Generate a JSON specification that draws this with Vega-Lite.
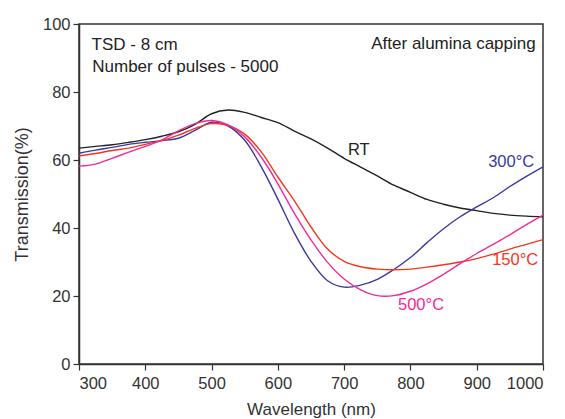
{
  "$schema": "https://vega.github.io/schema/vega-lite/v6.json",
  "width": 464,
  "height": 340,
  "autosize": {"type": "none"},
  "padding": {"left": 79, "top": 24, "right": 22, "bottom": 55},
  "config": {
    "font": "Liberation Sans",
    "view": {"stroke": "#333333", "strokeWidth": 1.5},
    "axis": {"grid": false, "domainColor": "#333333", "domainWidth": 1.5, "tickColor": "#333333", "tickWidth": 1.2, "labelColor": "#333333", "titleColor": "#333333", "labelFont": "Liberation Sans", "titleFont": "Liberation Sans", "labelFontSize": 16.5, "titleFontSize": 17, "titleFontWeight": "normal"}
  },
  "datasets": {
    "curves": [
      {"wl": 300, "T": 63.5, "s": "RT"}, {"wl": 325, "T": 64.0, "s": "RT"}, {"wl": 350, "T": 64.5, "s": "RT"}, {"wl": 375, "T": 65.2, "s": "RT"}, {"wl": 400, "T": 66.0, "s": "RT"}, {"wl": 425, "T": 67.0, "s": "RT"}, {"wl": 450, "T": 68.3, "s": "RT"}, {"wl": 475, "T": 70.5, "s": "RT"}, {"wl": 500, "T": 73.6, "s": "RT"}, {"wl": 525, "T": 74.7, "s": "RT"}, {"wl": 550, "T": 74.0, "s": "RT"}, {"wl": 575, "T": 72.5, "s": "RT"}, {"wl": 600, "T": 71.0, "s": "RT"}, {"wl": 625, "T": 68.5, "s": "RT"}, {"wl": 650, "T": 66.2, "s": "RT"}, {"wl": 675, "T": 63.5, "s": "RT"}, {"wl": 700, "T": 60.5, "s": "RT"}, {"wl": 725, "T": 57.9, "s": "RT"}, {"wl": 750, "T": 55.3, "s": "RT"}, {"wl": 775, "T": 52.6, "s": "RT"}, {"wl": 800, "T": 50.5, "s": "RT"}, {"wl": 825, "T": 48.4, "s": "RT"}, {"wl": 850, "T": 47.0, "s": "RT"}, {"wl": 875, "T": 45.9, "s": "RT"}, {"wl": 900, "T": 45.1, "s": "RT"}, {"wl": 925, "T": 44.3, "s": "RT"}, {"wl": 950, "T": 43.8, "s": "RT"}, {"wl": 975, "T": 43.5, "s": "RT"}, {"wl": 1000, "T": 43.3, "s": "RT"},
      {"wl": 300, "T": 62.0, "s": "300"}, {"wl": 325, "T": 62.9, "s": "300"}, {"wl": 350, "T": 63.7, "s": "300"}, {"wl": 375, "T": 64.6, "s": "300"}, {"wl": 400, "T": 65.2, "s": "300"}, {"wl": 425, "T": 65.7, "s": "300"}, {"wl": 450, "T": 66.4, "s": "300"}, {"wl": 475, "T": 68.7, "s": "300"}, {"wl": 500, "T": 71.1, "s": "300"}, {"wl": 525, "T": 70.0, "s": "300"}, {"wl": 550, "T": 65.8, "s": "300"}, {"wl": 575, "T": 58.0, "s": "300"}, {"wl": 600, "T": 48.5, "s": "300"}, {"wl": 625, "T": 38.5, "s": "300"}, {"wl": 650, "T": 30.2, "s": "300"}, {"wl": 675, "T": 24.5, "s": "300"}, {"wl": 700, "T": 22.6, "s": "300"}, {"wl": 725, "T": 23.2, "s": "300"}, {"wl": 750, "T": 24.9, "s": "300"}, {"wl": 775, "T": 27.8, "s": "300"}, {"wl": 800, "T": 31.3, "s": "300"}, {"wl": 825, "T": 35.7, "s": "300"}, {"wl": 850, "T": 39.8, "s": "300"}, {"wl": 875, "T": 43.3, "s": "300"}, {"wl": 900, "T": 46.2, "s": "300"}, {"wl": 925, "T": 48.9, "s": "300"}, {"wl": 950, "T": 52.2, "s": "300"}, {"wl": 975, "T": 55.2, "s": "300"}, {"wl": 1000, "T": 58.0, "s": "300"},
      {"wl": 300, "T": 61.2, "s": "150"}, {"wl": 325, "T": 61.9, "s": "150"}, {"wl": 350, "T": 62.8, "s": "150"}, {"wl": 375, "T": 63.5, "s": "150"}, {"wl": 400, "T": 64.6, "s": "150"}, {"wl": 425, "T": 65.7, "s": "150"}, {"wl": 450, "T": 67.3, "s": "150"}, {"wl": 475, "T": 69.3, "s": "150"}, {"wl": 500, "T": 70.7, "s": "150"}, {"wl": 525, "T": 70.2, "s": "150"}, {"wl": 550, "T": 67.6, "s": "150"}, {"wl": 575, "T": 62.4, "s": "150"}, {"wl": 600, "T": 55.0, "s": "150"}, {"wl": 625, "T": 48.0, "s": "150"}, {"wl": 650, "T": 40.3, "s": "150"}, {"wl": 675, "T": 33.8, "s": "150"}, {"wl": 700, "T": 30.2, "s": "150"}, {"wl": 725, "T": 28.6, "s": "150"}, {"wl": 750, "T": 27.9, "s": "150"}, {"wl": 775, "T": 27.7, "s": "150"}, {"wl": 800, "T": 27.9, "s": "150"}, {"wl": 825, "T": 28.5, "s": "150"}, {"wl": 850, "T": 29.2, "s": "150"}, {"wl": 875, "T": 30.0, "s": "150"}, {"wl": 900, "T": 31.0, "s": "150"}, {"wl": 925, "T": 32.3, "s": "150"}, {"wl": 950, "T": 33.8, "s": "150"}, {"wl": 975, "T": 35.2, "s": "150"}, {"wl": 1000, "T": 36.6, "s": "150"},
      {"wl": 300, "T": 58.2, "s": "500"}, {"wl": 325, "T": 58.8, "s": "500"}, {"wl": 350, "T": 60.5, "s": "500"}, {"wl": 375, "T": 62.3, "s": "500"}, {"wl": 400, "T": 64.0, "s": "500"}, {"wl": 425, "T": 65.9, "s": "500"}, {"wl": 450, "T": 68.6, "s": "500"}, {"wl": 475, "T": 70.7, "s": "500"}, {"wl": 500, "T": 71.6, "s": "500"}, {"wl": 525, "T": 70.3, "s": "500"}, {"wl": 550, "T": 66.8, "s": "500"}, {"wl": 575, "T": 60.8, "s": "500"}, {"wl": 600, "T": 53.0, "s": "500"}, {"wl": 625, "T": 44.3, "s": "500"}, {"wl": 650, "T": 36.5, "s": "500"}, {"wl": 675, "T": 29.9, "s": "500"}, {"wl": 700, "T": 25.0, "s": "500"}, {"wl": 725, "T": 21.8, "s": "500"}, {"wl": 750, "T": 20.1, "s": "500"}, {"wl": 775, "T": 20.1, "s": "500"}, {"wl": 800, "T": 21.4, "s": "500"}, {"wl": 825, "T": 23.6, "s": "500"}, {"wl": 850, "T": 26.4, "s": "500"}, {"wl": 875, "T": 29.5, "s": "500"}, {"wl": 900, "T": 32.5, "s": "500"}, {"wl": 925, "T": 35.2, "s": "500"}, {"wl": 950, "T": 38.0, "s": "500"}, {"wl": 975, "T": 41.0, "s": "500"}, {"wl": 1000, "T": 43.8, "s": "500"}
    ],
    "labels": [
      {"wl": 722, "T": 62.9, "text": "RT", "s": "RT"},
      {"wl": 952, "T": 59.4, "text": "300°C", "s": "300"},
      {"wl": 958, "T": 30.6, "text": "150°C", "s": "150"},
      {"wl": 816, "T": 17.4, "text": "500°C", "s": "500"}
    ],
    "notesLeft": [
      {"wl": 319, "T": 93.8, "text": "TSD - 8 cm"},
      {"wl": 320, "T": 87.3, "text": "Number of pulses - 5000"}
    ],
    "notesRight": [
      {"wl": 989, "T": 94.2, "text": "After alumina capping"}
    ]
  },
  "layer": [
    {
      "data": {"name": "curves"},
      "mark": {"type": "line", "interpolate": "catmull-rom", "strokeWidth": 1.4},
      "encoding": {
        "x": {"field": "wl", "type": "quantitative", "scale": {"domain": [300, 1000], "nice": false},
          "axis": {"title": "Wavelength (nm)", "values": [300, 350, 400, 450, 500, 550, 600, 650, 700, 750, 800, 850, 900, 950, 1000],
            "labelExpr": "datum.value % 100 === 0 ? datum.label : ''", "format": "d",
            "tickSize": {"condition": {"test": "datum.value % 100 === 0", "value": 6}, "value": 3},
            "labelPadding": 5, "titlePadding": 10}},
        "y": {"field": "T", "type": "quantitative", "scale": {"domain": [0, 100], "nice": false},
          "axis": {"title": "Transmission(%)", "titleFontSize": 18, "values": [0, 10, 20, 30, 40, 50, 60, 70, 80, 90, 100],
            "labelExpr": "datum.value % 20 === 0 ? datum.label : ''",
            "tickSize": {"condition": {"test": "datum.value % 20 === 0", "value": 6}, "value": 3},
            "labelPadding": 3, "titlePadding": 11}},
        "color": {"field": "s", "type": "nominal", "scale": {"domain": ["RT", "300", "150", "500"], "range": ["#222222", "#3a3aa0", "#f5361c", "#f42a98"]}, "legend": null},
        "detail": {"field": "s"}
      }
    },
    {
      "data": {"name": "labels"},
      "mark": {"type": "text", "fontSize": 16.5, "font": "Liberation Sans"},
      "encoding": {
        "x": {"field": "wl", "type": "quantitative"},
        "y": {"field": "T", "type": "quantitative"},
        "text": {"field": "text"},
        "color": {"field": "s", "type": "nominal", "legend": null}
      }
    },
    {
      "data": {"name": "notesLeft"},
      "mark": {"type": "text", "fontSize": 17, "font": "Liberation Sans", "color": "#222222", "align": "left"},
      "encoding": {
        "x": {"field": "wl", "type": "quantitative"},
        "y": {"field": "T", "type": "quantitative"},
        "text": {"field": "text"}
      }
    },
    {
      "data": {"name": "notesRight"},
      "mark": {"type": "text", "fontSize": 17, "font": "Liberation Sans", "color": "#222222", "align": "right"},
      "encoding": {
        "x": {"field": "wl", "type": "quantitative"},
        "y": {"field": "T", "type": "quantitative"},
        "text": {"field": "text"}
      }
    }
  ]
}
